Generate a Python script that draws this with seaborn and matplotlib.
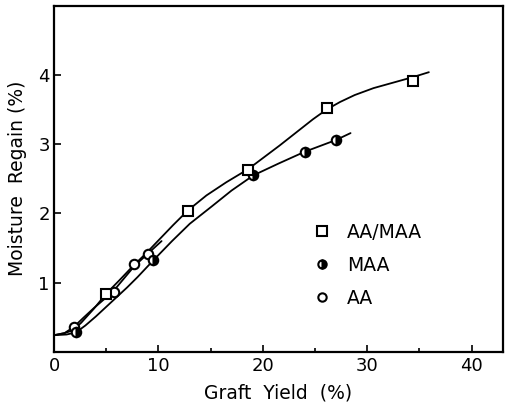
import matplotlib
matplotlib.use('Agg')
import matplotlib.pyplot as plt
import seaborn as sns
import pandas as pd
from matplotlib.lines import Line2D
from matplotlib.ticker import MultipleLocator

# measured points (graft yield %, moisture regain %)
aamaa_x = [5.0, 12.8, 18.6, 26.1, 34.4]
aamaa_y = [0.84, 2.04, 2.63, 3.52, 3.91]
maa_x = [2.1, 9.5, 19.1, 24.0, 27.0]
maa_y = [0.28, 1.33, 2.55, 2.88, 3.06]
aa_x = [1.9, 5.7, 7.7, 9.0]
aa_y = [0.36, 0.86, 1.27, 1.41]

# points
curve_aamaa_x = [0, 1.0, 1.8, 2.6, 3.8, 5.0, 6.3, 7.5, 8.8, 10.0, 11.4, 12.8, 14.6, 16.5, 18.6,
                 20.1, 21.6, 23.2, 24.8, 26.1, 27.4, 28.8, 30.6, 32.5, 34.4, 35.9]
curve_aamaa_y = [0.24, 0.27, 0.31, 0.42, 0.62, 0.84, 1.04, 1.23, 1.42, 1.61, 1.83, 2.04, 2.26, 2.45, 2.64,
                 2.81, 2.98, 3.17, 3.36, 3.50, 3.61, 3.71, 3.81, 3.89, 3.97, 4.04]
curve_maa_x = [0, 1.2, 2.1, 3.0, 4.0, 5.0, 6.0, 7.0, 8.0, 9.5, 11.3, 13.0, 15.1, 17.0,
               19.1, 21.5, 24.0, 27.0, 28.4]
curve_maa_y = [0.24, 0.25, 0.28, 0.38, 0.51, 0.65, 0.79, 0.93, 1.08, 1.32, 1.60, 1.85, 2.10, 2.33,
               2.55, 2.72, 2.89, 3.06, 3.16]
curve_aa_x = [0, 1.0, 1.9, 2.8, 3.8, 4.8, 5.7, 6.7, 7.7, 9.0, 10.3]
curve_aa_y = [0.24, 0.27, 0.36, 0.49, 0.63, 0.76, 0.88, 1.06, 1.24, 1.42, 1.60]

legend_labels = ['AA/MAA', 'MAA', 'AA']

sns.set_style('ticks', {'axes.edgecolor': 'black', 'xtick.color': 'black',
                        'ytick.color': 'black', 'text.color': 'black',
                        'axes.labelcolor': 'black'})
plt.rcParams['font.family'] = ['DejaVu Sans']

fig = plt.figure(figsize=(5.05, 4.11), dpi=100)
ax = fig.add_axes([0.107, 0.144, 0.889, 0.842])

for cx, cy in [(curve_aamaa_x, curve_aamaa_y), (curve_maa_x, curve_maa_y), (curve_aa_x, curve_aa_y)]:
    df = pd.DataFrame({'x': cx, 'y': cy})
    sns.lineplot(data=df, x='x', y='y', ax=ax, color='black', linewidth=1.3, sort=False, zorder=2)

ax.plot(aa_x, aa_y, 'o', ms=6.8, mfc='white', mec='black', mew=1.5, zorder=3)
ax.plot(maa_x, maa_y, 'o', ms=6.8, mfc='black', mec='black', mew=1.5,
        fillstyle='right', markerfacecoloralt='white', zorder=3)
ax.plot(aamaa_x, aamaa_y, 's', ms=7.5, mfc='white', mec='black', mew=1.5, zorder=4)

ax.set_xlim(0, 43)
ax.set_ylim(0, 5)
ax.xaxis.set_major_locator(MultipleLocator(10))
ax.xaxis.set_minor_locator(MultipleLocator(5))
ax.set_yticks([1, 2, 3, 4])
ax.tick_params(axis='both', which='major', direction='in', length=5, width=1.2,
               labelsize=13, pad=4)
ax.tick_params(axis='x', which='minor', direction='in', length=3, width=1.2)
ax.tick_params(axis='y', pad=3)
for s in ax.spines.values():
    s.set_linewidth(1.6)
    s.set_visible(True)

ax.set_xlabel('Graft  Yield  (%)', fontsize=13.5, labelpad=6)
ax.set_ylabel('Moisture  Regain (%)', fontsize=13.5, labelpad=8)

handles = [
    Line2D([], [], ls='none', marker='s', ms=6.5, mfc='white', mec='black', mew=1.5),
    Line2D([], [], ls='none', marker='o', ms=6, mfc='black', mec='black', mew=1.5,
           fillstyle='right', markerfacecoloralt='white'),
    Line2D([], [], ls='none', marker='o', ms=6, mfc='white', mec='black', mew=1.5),
]
ax.legend(handles, legend_labels, loc='center left', bbox_to_anchor=(0.56, 0.25),
          frameon=False, fontsize=13.5, handletextpad=0.8, labelspacing=0.75,
          handlelength=1.0, borderaxespad=0)

fig.savefig('out.png', dpi=100)
